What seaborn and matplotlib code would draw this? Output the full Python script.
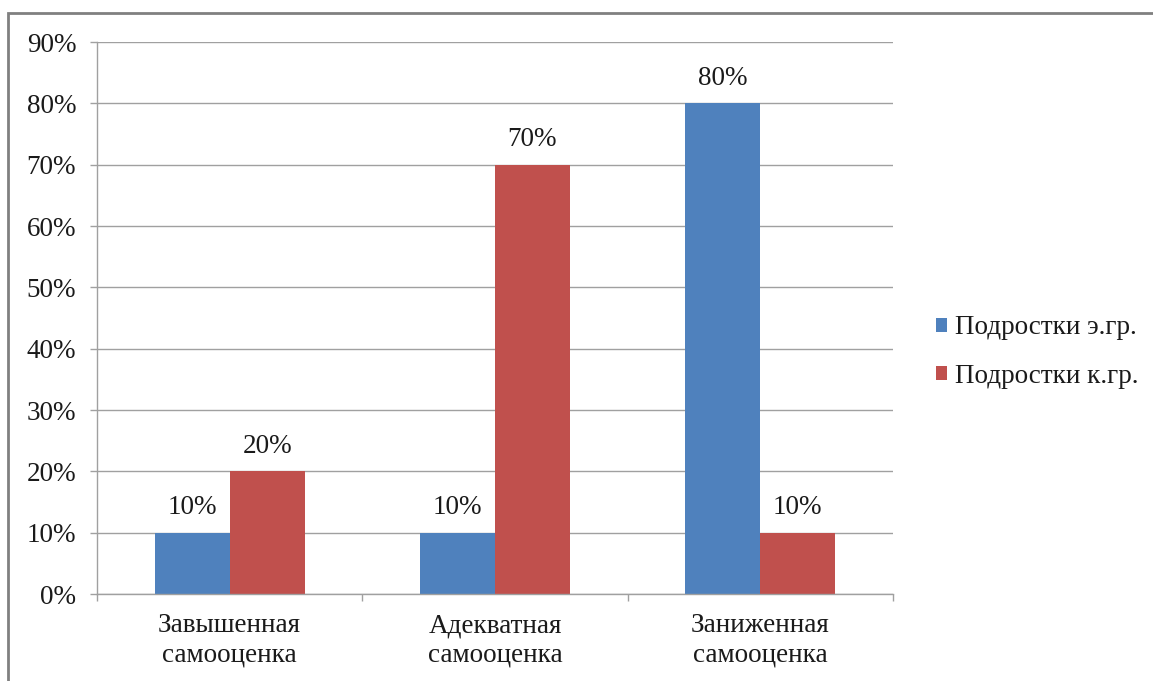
import matplotlib
matplotlib.use("Agg")
import matplotlib.pyplot as plt
from matplotlib.patches import Rectangle, Patch
from matplotlib.ticker import FixedLocator, FuncFormatter
import pandas as pd
import seaborn as sns

# Self-esteem levels of teenagers: experimental vs control group (percent)
categories = ["Завышенная\nсамооценка", "Адекватная\nсамооценка", "Заниженная\nсамооценка"]
groups = ["Подростки э.гр.", "Подростки к.гр."]
exp_group = [10, 10, 80]
ctrl_group = [20, 70, 10]
y_ticks = [0, 10, 20, 30, 40, 50, 60, 70, 80, 90]

colors = ["#4F81BD", "#C0504D"]
grid_color = "#A0A0A0"
text_color = "#1a1a1a"
fs = 19.5

df = pd.DataFrame({
    "category": categories * 2,
    "group": [groups[0]] * 3 + [groups[1]] * 3,
    "value": exp_group + ctrl_group,
})

sns.set_theme(style="white")
plt.rcParams["font.family"] = ["Liberation Serif", "DejaVu Serif"]

fig = plt.figure(figsize=(11.53, 6.81), dpi=100)
ax = fig.add_axes([97 / 1153, 1 - 594 / 681, (893 - 97) / 1153, (594 - 42) / 681])

sns.barplot(data=df, x="category", y="value", hue="group", order=categories,
            hue_order=groups, palette=colors, width=0.565, gap=0,
            saturation=1, linewidth=0, legend=False, ax=ax)

ax.set_xlim(-0.5, 2.5)
ax.set_ylim(0, 90)
ax.yaxis.set_major_locator(FixedLocator(y_ticks))
ax.yaxis.set_major_formatter(FuncFormatter(lambda v, _: f"{v:.0f}%"))
ax.grid(axis="y", color=grid_color, linewidth=1)
ax.set_axisbelow(True)
ax.set_xlabel("")
ax.set_ylabel("")

for side in ("top", "right"):
    ax.spines[side].set_visible(False)
for side in ("left", "bottom"):
    ax.spines[side].set_color(grid_color)
    ax.spines[side].set_linewidth(1)

ax.tick_params(axis="y", length=5, width=1, color=grid_color, pad=10,
               labelsize=fs, labelcolor=text_color, left=True)
ax.tick_params(axis="x", which="major", length=0, pad=14, labelsize=fs,
               labelcolor=text_color)
ax.set_xticks([-0.5, 0.5, 1.5, 2.5], minor=True)
ax.tick_params(axis="x", which="minor", length=5, width=1, color=grid_color,
               bottom=True)
for lbl in ax.get_xticklabels():
    lbl.set_linespacing(1.22)

# Value labels above each bar
for container, vals in zip(ax.containers, [exp_group, ctrl_group]):
    for bar, v in zip(container, vals):
        ax.annotate(f"{v}%", (bar.get_x() + bar.get_width() / 2, bar.get_height()),
                    xytext=(0, 9), textcoords="offset points",
                    ha="center", va="bottom", fontsize=fs, color=text_color)

handles = [Patch(facecolor=c, edgecolor="none") for c in colors]
fig.legend(handles, groups, loc="center left",
           bbox_to_anchor=(912 / 1153, 1 - 352 / 681), frameon=False,
           fontsize=fs, handlelength=0.4, handleheight=0.4, handletextpad=0.3,
           labelspacing=0.85, labelcolor=text_color)

# Chart frame
fig.add_artist(Rectangle((8 / 1153, -0.1), 1.2, 1 - 13 / 681 + 0.1,
                         transform=fig.transFigure, fill=False,
                         edgecolor="#808080", linewidth=2))

fig.savefig("out.png", dpi=100, facecolor="white")
